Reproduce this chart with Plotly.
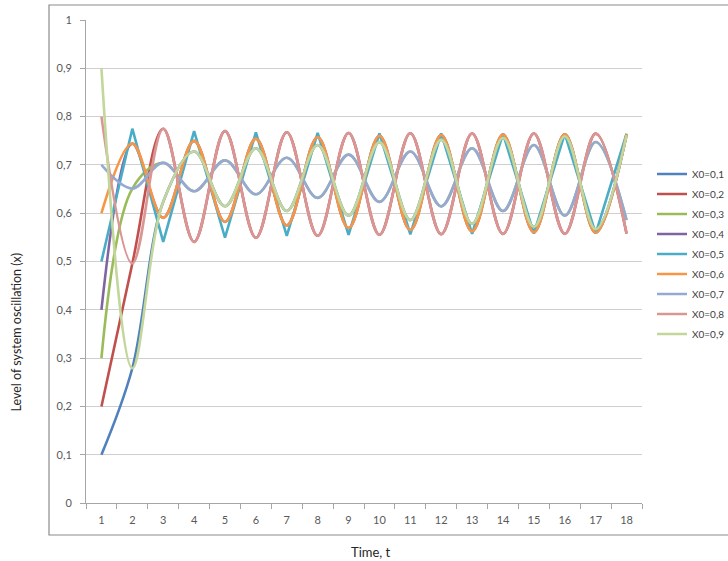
import plotly.graph_objects as go

# Time steps (categories)
t = [str(i) for i in range(1, 19)]

# Series values (logistic-type oscillation)
x01 = [0.1, 0.279, 0.6236, 0.7277, 0.6143, 0.7345, 0.6046, 0.7411, 0.5948, 0.7471, 0.5857, 0.7523, 0.5778, 0.7563, 0.5714, 0.7592, 0.5668, 0.7612]
x02 = [0.2, 0.496, 0.7750, 0.5407, 0.7699, 0.5492, 0.7675, 0.5532, 0.7662, 0.5553, 0.7655, 0.5564, 0.7651, 0.5571, 0.7649, 0.5575, 0.7648, 0.5577]
x03 = [0.3, 0.651, 0.7043, 0.6456, 0.7093, 0.6392, 0.7149, 0.6318, 0.7212, 0.6234, 0.7278, 0.6141, 0.7346, 0.6044, 0.7412, 0.5946, 0.7473, 0.5855]
x04 = [0.4, 0.744, 0.5904, 0.7497, 0.5818, 0.7543, 0.5746, 0.7578, 0.5691, 0.7602, 0.5651, 0.7619, 0.5624, 0.7629, 0.5607, 0.7636, 0.5596, 0.7640]
x05 = [0.5, 0.775, 0.5406, 0.7699, 0.5492, 0.7675, 0.5532, 0.7662, 0.5553, 0.7655, 0.5564, 0.7651, 0.5571, 0.7649, 0.5575, 0.7648, 0.5577, 0.7647]
x06 = [0.6, 0.744, 0.5904, 0.7497, 0.5818, 0.7543, 0.5746, 0.7578, 0.5691, 0.7602, 0.5651, 0.7619, 0.5624, 0.7629, 0.5607, 0.7636, 0.5596, 0.7640]
x07 = [0.7, 0.651, 0.7043, 0.6456, 0.7093, 0.6392, 0.7149, 0.6318, 0.7212, 0.6234, 0.7278, 0.6141, 0.7346, 0.6044, 0.7412, 0.5946, 0.7473, 0.5855]
x08 = [0.8, 0.496, 0.7750, 0.5407, 0.7699, 0.5492, 0.7675, 0.5532, 0.7662, 0.5553, 0.7655, 0.5564, 0.7651, 0.5571, 0.7649, 0.5575, 0.7648, 0.5577]
x09 = [0.9, 0.279, 0.6236, 0.7277, 0.6143, 0.7345, 0.6046, 0.7411, 0.5948, 0.7471, 0.5857, 0.7523, 0.5778, 0.7563, 0.5714, 0.7592, 0.5668, 0.7612]

series_names = ["X0=0,1", "X0=0,2", "X0=0,3", "X0=0,4", "X0=0,5",
                "X0=0,6", "X0=0,7", "X0=0,8", "X0=0,9"]
series_values = [x01, x02, x03, x04, x05, x06, x07, x08, x09]
colors = ["#4F81BD", "#C0504D", "#9BBB59", "#8064A2", "#4BACC6",
          "#F79646", "#95A9D4", "#DA9694", "#C3D69B"]
shapes_line = ["spline", "spline", "spline", "spline", "linear",
               "spline", "spline", "spline", "spline"]

y_tick_vals = [0, 0.1, 0.2, 0.3, 0.4, 0.5, 0.6, 0.7, 0.8, 0.9, 1]
y_tick_labels = ["0", "0,1", "0,2", "0,3", "0,4", "0,5", "0,6", "0,7", "0,8", "0,9", "1"]

FONT = "Lato, Carlito, Calibri, sans-serif"

W, H = 728, 561
PL, PR, PT, PB = 86, 642, 20, 503  # plot area in page pixels
pw, ph = PR - PL, PB - PT


def px(xf):
    return (xf - PL) / pw


def py(yf):
    return (PB - yf) / ph


fig = go.Figure()
for name, vals, col, sh in zip(series_names, series_values, colors, shapes_line):
    fig.add_trace(go.Scatter(
        x=t, y=vals, name=name, mode="lines", legendgroup=name,
        line=dict(color=col, width=2.6, shape=sh),
    ))

fig.update_layout(
    width=W, height=H,
    margin=dict(l=PL, r=W - PR, t=PT, b=H - PB, autoexpand=False),
    paper_bgcolor="white", plot_bgcolor="white",
    font=dict(family=FONT, size=11, color="#595959"),
    showlegend=True,
    legend=dict(x=px(652), y=py(159.5), xanchor="left", yanchor="top",
                font=dict(size=10, color="#404040"),
                bgcolor="rgba(0,0,0,0)", tracegroupgap=1),
    xaxis=dict(
        type="category", range=[-0.5, 17.5], automargin=False,
        showgrid=False, showline=True, linecolor="#A6A6A6", linewidth=1,
        ticks="outside", ticklen=5, tickcolor="#A6A6A6", tickson="boundaries",
        tickfont=dict(size=11, color="#595959"), ticklabelstandoff=7,
        zeroline=False,
    ),
    yaxis=dict(
        range=[0, 1], tickvals=y_tick_vals, ticktext=y_tick_labels, automargin=False,
        showgrid=True, gridcolor="#CFCFCF", gridwidth=1,
        showline=True, linecolor="#A6A6A6", linewidth=1,
        ticks="outside", ticklen=5, tickcolor="#A6A6A6",
        tickfont=dict(size=11, color="#595959"), ticklabelstandoff=6,
        zeroline=False,
    ),
    shapes=[dict(type="rect", xref="paper", yref="paper",
                 x0=px(49), x1=px(736), y0=py(535), y1=py(5),
                 line=dict(color="#8C8C8C", width=1.2), fillcolor="rgba(0,0,0,0)",
                 layer="below")],
    annotations=[
        dict(text="Time, t", xref="paper", yref="paper",
             x=px(371), y=py(552), xanchor="center", yanchor="middle",
             showarrow=False, font=dict(size=13, color="#262626")),
        dict(text="Level of system oscillation (x)", xref="paper", yref="paper",
             x=px(15.5), y=py(332), xanchor="center", yanchor="middle",
             textangle=-90, showarrow=False, font=dict(size=12.5, color="#262626")),
    ],
)

fig.write_html("out.html", config={"displayModeBar": False},
               post_script="document.body.style.margin='0px';")
